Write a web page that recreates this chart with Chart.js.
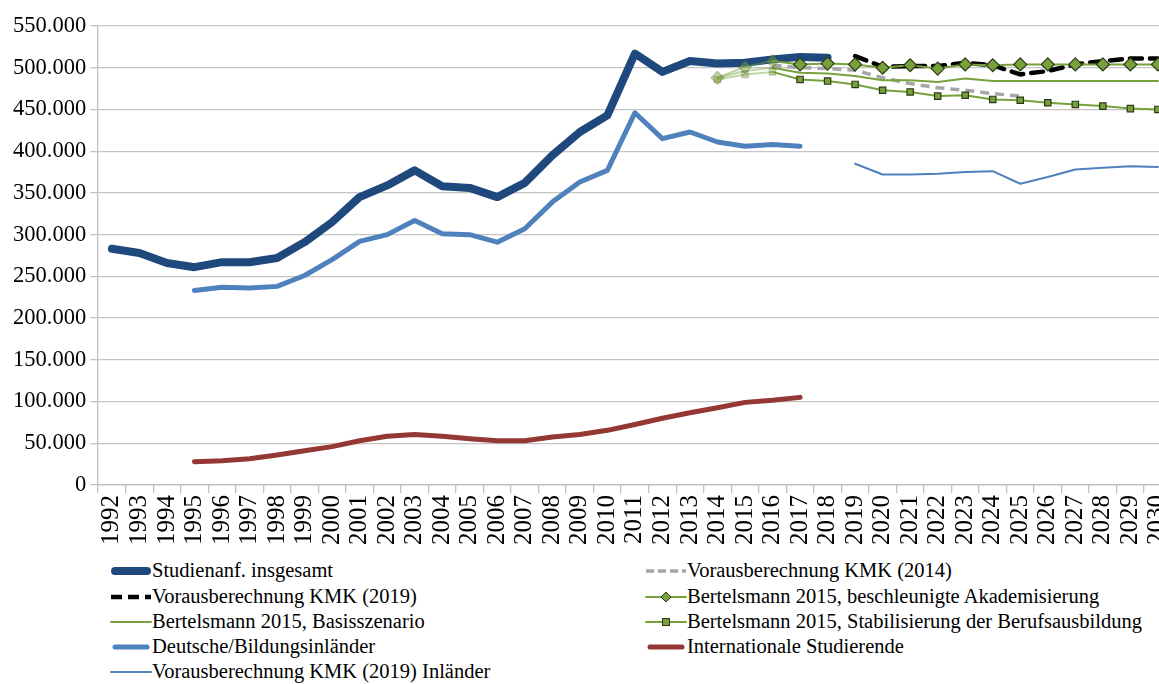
<!DOCTYPE html>
<html>
<head>
<meta charset="utf-8">
<script src="https://cdn.jsdelivr.net/npm/chart.js@4.4.1/dist/chart.umd.min.js"></script>
<style>
  html, body { margin: 0; padding: 0; background: #fff; overflow: hidden; width: 1159px; height: 684px; }
  #wrap { position: absolute; left: 0; top: 0; width: 1190px; height: 547px; }
  .lg { position: absolute; font-family: 'Liberation Serif', 'Times New Roman', serif; font-size: 20.5px; line-height: 25px; color: #000; white-space: nowrap; }
  .sw { position: absolute; }
</style>
</head>
<body>
<div id="wrap"><canvas id="c"></canvas></div>
<div id="legend"></div>
<script>
// ---- data ----
const years = ["1992","1993","1994","1995","1996","1997","1998","1999","2000","2001","2002","2003","2004","2005","2006","2007","2008","2009","2010","2011","2012","2013","2014","2015","2016","2017","2018","2019","2020","2021","2022","2023","2024","2025","2026","2027","2028","2029","2030"];

const studienanfInsgesamt = [283000,278000,266000,261000,267000,267000,272000,291000,315000,345000,359000,377000,358000,356000,345000,362000,395000,423000,443000,517000,495000,508000,505000,506000,510000,513000,512000,
  null,null,null,null,null,null,null,null,null,null,null,null];

const deutscheBildungsinlaender = [null,null,null,
  233000,237000,236000,238000,251000,270000,292000,300000,317000,301000,300000,291000,307000,339000,363000,377000,446000,415000,423000,411000,406000,408000,406000,
  null,null,null,null,null,null,null,null,null,null,null,null,null];

const internationaleStudierende = [null,null,null,
  28000,29000,31500,36000,41000,46000,53000,58500,60500,58500,55500,53000,53000,57500,60500,65500,72500,80000,86500,92500,99000,101500,105000,
  null,null,null,null,null,null,null,null,null,null,null,null,null];

const kmk2014 = [null,null,null,null,null,null,null,null,null,null,null,null,null,null,null,null,null,null,null,null,null,null,null,null,
  503000,500000,499000,497000,488000,481000,476000,473000,469000,466000,
  null,null,null,null,null];

const kmk2019 = [null,null,null,null,null,null,null,null,null,null,null,null,null,null,null,null,null,null,null,null,null,null,null,null,null,null,null,
  514000,501000,502000,502000,506000,503000,492000,496000,504000,508000,511000,511000];

const kmk2019Inlaender = [null,null,null,null,null,null,null,null,null,null,null,null,null,null,null,null,null,null,null,null,null,null,null,null,null,null,null,
  385000,372000,372000,373000,375000,376000,361000,369000,378000,380000,382000,381000];

const bertelsmannAkademisierung = [null,null,null,null,null,null,null,null,null,null,null,null,null,null,null,null,null,null,null,null,null,null,
  488000,501000,508000,504000,505000,504000,500000,503000,499000,504000,503000,504000,504000,504000,504000,504000,504000];

const bertelsmannBasis = [null,null,null,null,null,null,null,null,null,null,null,null,null,null,null,null,null,null,null,null,null,null,
  488000,496000,500000,494000,493000,490000,485000,485000,483000,487000,484000,484000,484000,484000,484000,484000,484000];

const bertelsmannStabil = [null,null,null,null,null,null,null,null,null,null,null,null,null,null,null,null,null,null,null,null,null,null,
  486000,492000,495000,486000,484000,480000,473000,471000,466000,467000,462000,461000,458000,456000,454000,451000,450000];

const yTickMin = 0, yTickMax = 550000, yTickStep = 50000;

// ---- styles ----
const FAMILY = "'Liberation Serif', 'Times New Roman', serif";
const Y_FONT = { family: FAMILY, size: 22.5 };
const X_FONT = { family: FAMILY, size: 25 };

const C_DARK = '#1F497D', C_MID = '#4F81BD', C_RED = '#953735', C_GREEN = '#77A13C', C_GREEN_FADE = 'rgba(119,161,60,0.45)';
const C_MARK_BORDER = '#2B3A14', C_GRAY = '#A6A6A6';
const FADE_END = years.indexOf("2016");

function fadeSeg(ctx) { return ctx.p1DataIndex <= FADE_END ? C_GREEN_FADE : C_GREEN; }
function markerColors(data, solid, faded) {
  return data.map((v, i) => i <= FADE_END ? faded : solid);
}
function fmt(v) { return String(v).replace(/\B(?=(\d{3})+(?!\d))/g, '.'); }

const datasets = [
  { label: 'Studienanf. insgesamt', data: studienanfInsgesamt, borderColor: C_DARK, borderWidth: 8, order: 5 },
  { label: 'Deutsche/Bildungsinländer', data: deutscheBildungsinlaender, borderColor: C_MID, borderWidth: 5, order: 6 },
  { label: 'Internationale Studierende', data: internationaleStudierende, borderColor: C_RED, borderWidth: 5, order: 6 },
  { label: 'Vorausberechnung KMK (2019) Inländer', data: kmk2019Inlaender, borderColor: C_MID, borderWidth: 2, order: 6 },
  { label: 'Vorausberechnung KMK (2014)', data: kmk2014, borderColor: C_GRAY, borderWidth: 3.5, borderDash: [9, 6], borderCapStyle: 'butt', order: 4 },
  { label: 'Bertelsmann 2015, Basisszenario', data: bertelsmannBasis, borderColor: C_GREEN, borderWidth: 2, segment: { borderColor: fadeSeg }, order: 3 },
  { label: 'Vorausberechnung KMK (2019)', data: kmk2019, borderColor: '#000', borderWidth: 4.5, borderDash: [12, 8], borderCapStyle: 'round', order: 2 },
  { label: 'Bertelsmann 2015, Stabilisierung der Berufsausbildung', data: bertelsmannStabil, borderColor: C_GREEN, borderWidth: 2, segment: { borderColor: fadeSeg },
    pointStyle: 'rect', pointRadius: 4.5, pointBorderWidth: 1.2,
    pointBackgroundColor: markerColors(bertelsmannStabil, C_GREEN, C_GREEN_FADE),
    pointBorderColor: markerColors(bertelsmannStabil, C_MARK_BORDER, 'rgba(43,58,20,0.25)'), order: 1 },
  { label: 'Bertelsmann 2015, beschleunigte Akademisierung', data: bertelsmannAkademisierung, borderColor: C_GREEN, borderWidth: 2, segment: { borderColor: fadeSeg },
    pointStyle: 'rectRot', pointRadius: 6.5, pointBorderWidth: 1.2,
    pointBackgroundColor: markerColors(bertelsmannAkademisierung, C_GREEN, C_GREEN_FADE),
    pointBorderColor: markerColors(bertelsmannAkademisierung, C_MARK_BORDER, 'rgba(43,58,20,0.25)'), order: 0 }
];
datasets.forEach(d => {
  d.fill = false; d.tension = 0; d.spanGaps = false;
  if (d.pointRadius === undefined) d.pointRadius = 0;
  d.pointHoverRadius = d.pointRadius;
  d.borderJoinStyle = 'round';
  if (!d.borderCapStyle) d.borderCapStyle = 'round';
});

new Chart(document.getElementById('c'), {
  type: 'line',
  data: { labels: years, datasets },
  options: {
    responsive: true, maintainAspectRatio: false, animation: false, devicePixelRatio: 1,
    layout: { padding: { top: 26, left: 9, right: 0, bottom: 0 } },
    plugins: { legend: { display: false }, tooltip: { enabled: false }, title: { display: false } },
    events: [],
    scales: {
      x: {
        type: 'category', offset: true,
        grid: { drawOnChartArea: false, drawTicks: true, tickLength: 8, offset: true, color: '#BFBFBF', lineWidth: 1.3 },
        border: { color: '#BFBFBF', width: 1.3 },
        ticks: { minRotation: 90, maxRotation: 90, autoSkip: false, font: X_FONT, color: '#000', padding: 2 }
      },
      y: {
        min: yTickMin, max: yTickMax,
        grid: { color: '#C4C4C4', lineWidth: 1.3, tickLength: 8 },
        border: { color: '#BFBFBF', width: 1.3 },
        ticks: { stepSize: yTickStep, font: Y_FONT, color: '#000', padding: 4, callback: v => fmt(v) }
      }
    }
  }
});

// ---- HTML legend ----
const legendItems = [
  { col: 0, row: 0, text: 'Studienanf. insgesamt', color: C_DARK, w: 8 },
  { col: 1, row: 0, text: 'Vorausberechnung KMK (2014)', color: C_GRAY, w: 3.5, dash: '8 4' },
  { col: 0, row: 1, text: 'Vorausberechnung KMK (2019)', color: '#000', w: 4.5, dash: '11 6' },
  { col: 1, row: 1, text: 'Bertelsmann 2015, beschleunigte Akademisierung', color: C_GREEN, w: 2, marker: 'diamond' },
  { col: 0, row: 2, text: 'Bertelsmann 2015, Basisszenario', color: C_GREEN, w: 2 },
  { col: 1, row: 2, text: 'Bertelsmann 2015, Stabilisierung der Berufsausbildung', color: C_GREEN, w: 2, marker: 'square' },
  { col: 0, row: 3, text: 'Deutsche/Bildungsinländer', color: C_MID, w: 5 },
  { col: 1, row: 3, text: 'Internationale Studierende', color: C_RED, w: 5 },
  { col: 0, row: 4, text: 'Vorausberechnung KMK (2019) Inländer', color: C_MID, w: 2 }
];
const lg = document.getElementById('legend');
const colX = [110, 645], rowY = [571, 596.5, 621.5, 646.5, 672];
legendItems.forEach(it => {
  const x0 = colX[it.col], cy = rowY[it.row];
  let svg = `<svg class="sw" width="42" height="16" style="left:${x0}px;top:${cy - 8}px" xmlns="http://www.w3.org/2000/svg">`;
  const cap = it.dash ? 'butt' : 'round';
  const x1 = it.w >= 5 ? 5 : 1, x2 = it.w >= 5 ? 37 : 41;
  svg += `<line x1="${x1}" y1="8" x2="${x2}" y2="8" stroke="${it.color}" stroke-width="${it.w}" stroke-linecap="${cap}" ${it.dash ? `stroke-dasharray="${it.dash}"` : ''}/>`;
  if (it.marker === 'diamond') svg += `<polygon points="21,3 26,8 21,13 16,8" fill="${C_GREEN}" stroke="${C_MARK_BORDER}" stroke-width="1"/>`;
  if (it.marker === 'square') svg += `<rect x="17.5" y="4.5" width="7" height="7" fill="${C_GREEN}" stroke="${C_MARK_BORDER}" stroke-width="1"/>`;
  svg += '</svg>';
  lg.insertAdjacentHTML('beforeend', svg);
  const d = document.createElement('div');
  d.className = 'lg';
  d.style.left = (x0 + 42) + 'px';
  d.style.top = (cy - 13) + 'px';
  d.textContent = it.text;
  lg.appendChild(d);
});
</script>
</body>
</html>
